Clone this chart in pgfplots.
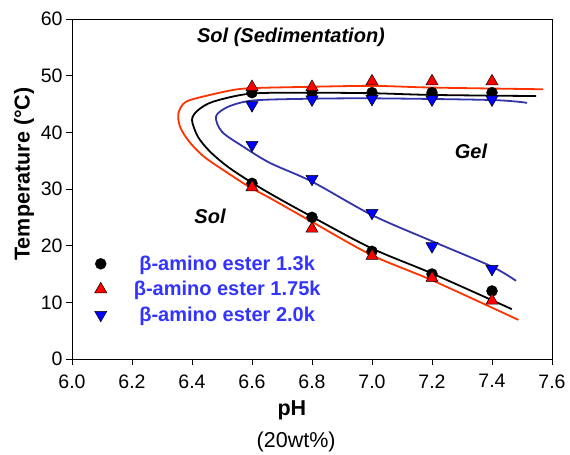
\documentclass[border=0pt]{standalone}
\usepackage{fontspec}
\setmainfont{Liberation Sans}
\usepackage{pgfplots}
\pgfplotsset{compat=1.18}

\definecolor{curvered}{RGB}{255,51,0}
\definecolor{curveblue}{RGB}{51,51,170}
\definecolor{legendblue}{RGB}{51,51,255}

\newcommand{\bigfont}{\fontsize{19.5}{22}\selectfont}
\newcommand{\lblfont}{\fontsize{21.5}{24}\selectfont}

\begin{document}
\begin{tikzpicture}
\begin{axis}[
    scale only axis,
    width=480pt, height=340pt,
    xmin=6, xmax=7.6, ymin=0, ymax=60,
    xtick={6.0,6.2,6.4,6.6,6.8,7.0,7.2,7.4,7.6},
    ytick={0,10,20,30,40,50,60},
    xtick pos=left, ytick pos=left,
    tick align=outside,
    major tick length=6pt,
    tick style={black, line width=0.8pt},
    axis line style={line width=0.8pt},
    tick label style={font=\bigfont},
    x tick label style={yshift=-6pt, /pgf/number format/.cd, fixed, fixed zerofill, precision=1},
    /pgf/number format/assume math mode=true,
    xlabel={\bfseries pH},
    ylabel={\bfseries Temperature (°C)},
    label style={font=\lblfont},
    xlabel style={at={(axis description cs:0.458,-0.152)}, anchor=center},
    ylabel style={at={(axis description cs:-0.1,0.544)}, anchor=center},
    clip=false,
    legend style={at={(axis cs:6.065,12.3)}, anchor=west, draw=none, fill=none,
        font=\bfseries\fontsize{20}{22}\selectfont, text=legendblue, row sep=5.5pt,
        /tikz/every odd column/.append style={column sep=25pt}},
    legend cell align=center,
]
% fitted curves
\addplot[curvered, line width=1.8pt, smooth, forget plot] coordinates {
    (7.57,47.6) (7.2,47.9) (7.0,48.2) (6.76,48.0) (6.60,47.8) (6.54,47.5)
    (6.46,46.6) (6.38,45.4) (6.355,43.4) (6.36,41.0) (6.39,38.4) (6.44,35.7)
    (6.52,32.8) (6.59,30.4) (6.66,28.4) (6.80,24.2) (7.0,18.3) (7.2,13.9)
    (7.488,6.9)
};
\addplot[black, line width=1.8pt, smooth, forget plot] coordinates {
    (7.547,46.4) (7.2,46.6) (7.0,46.9) (6.76,47.0) (6.59,46.8) (6.47,45.4)
    (6.42,43.9) (6.40,42.2) (6.42,39.2) (6.46,36.6) (6.52,33.9) (6.60,31.1)
    (6.68,28.6) (6.80,25.1) (7.0,19.5) (7.2,15.1) (7.466,8.8)
};
\addplot[curveblue, line width=1.8pt, smooth, forget plot] coordinates {
    (7.517,45.2) (7.4,45.7) (7.0,46.0) (6.76,45.9) (6.60,45.6) (6.52,44.5)
    (6.48,42.8) (6.50,40.1) (6.57,37.5) (6.66,34.6) (6.80,31.3) (7.0,25.4)
    (7.2,20.8) (7.4,16.3) (7.48,13.8)
};
% measured points
\addplot[only marks, mark=*, mark size=5.5pt, mark options={fill=black, draw=black}] coordinates {
    (6.6,47) (6.8,47) (7.0,47) (7.2,47) (7.4,47)
    (6.6,31) (6.8,25) (7.0,19) (7.2,15) (7.4,12)
};
\addlegendentry{β-amino ester 1.3k}
\addplot[only marks, mark=triangle*, mark size=7pt, mark options={fill=red, draw=black, line width=0.5pt}] coordinates {
    (6.6,48) (6.8,48) (7.0,49) (7.2,49) (7.4,49)
    (6.6,30.3) (6.8,23) (7.0,18.2) (7.2,14.3) (7.4,10.3)
};
\addlegendentry{β-amino ester 1.75k}
\addplot[only marks, mark=triangle*, mark size=7pt, mark options={fill=blue, draw=black, line width=0.5pt, rotate=180}] coordinates {
    (6.6,44.8) (6.8,45.8) (7.0,45.9) (7.2,45.8) (7.4,45.8)
    (6.6,37.8) (6.8,31.8) (7.0,25.8) (7.2,19.9) (7.4,15.9)
};
\addlegendentry{β-amino ester 2.0k}

\node[font=\bfseries\itshape\fontsize{20}{22}\selectfont] at (axis cs:6.73,56.7) {Sol (Sedimentation)};
\node[font=\bfseries\itshape\fontsize{20}{22}\selectfont] at (axis cs:7.33,36.6) {Gel};
\node[font=\bfseries\itshape\fontsize{20}{22}\selectfont] at (axis cs:6.46,25.2) {Sol};
\node[font=\lblfont] at (axis description cs:0.467,-0.243) {(20wt\%)};
\end{axis}
\path[use as bounding box] (-72pt,-94pt) rectangle (498pt,359pt);
\end{tikzpicture}
\end{document}
